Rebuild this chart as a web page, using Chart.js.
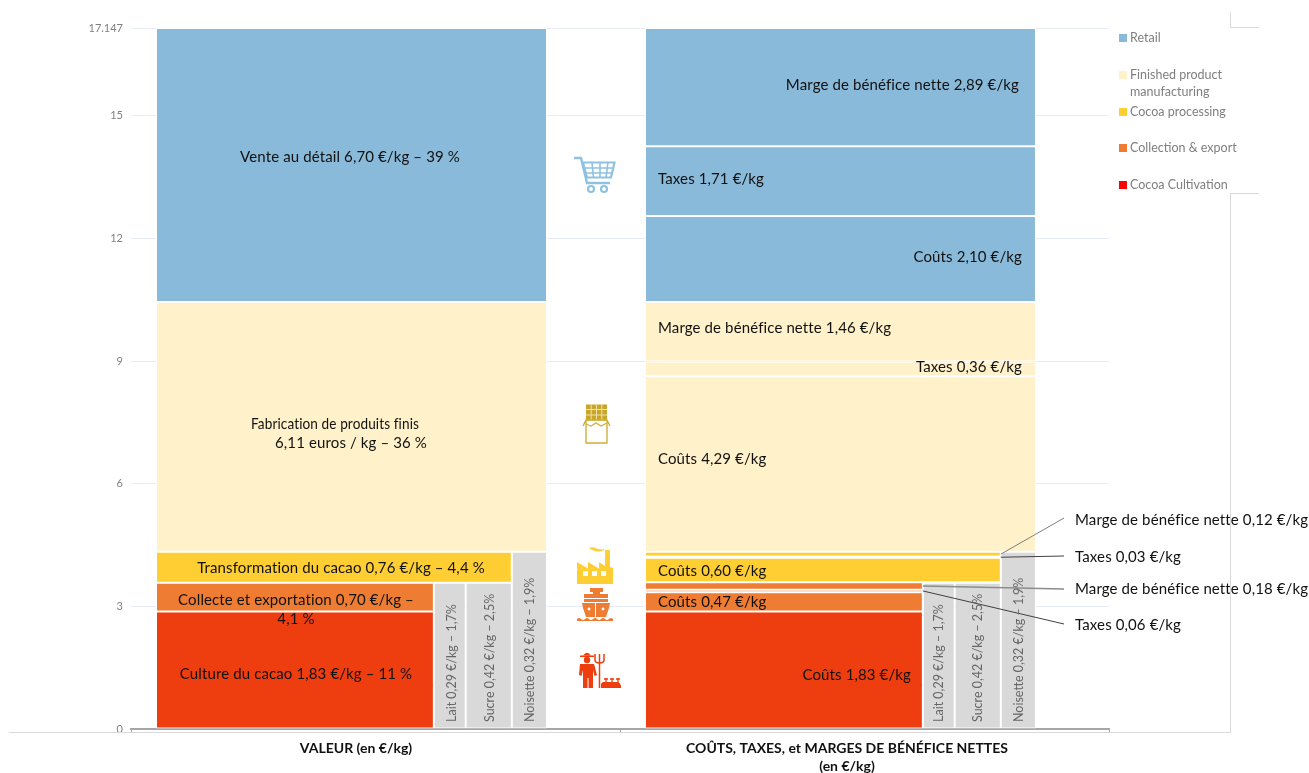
<!DOCTYPE html>
<html lang="fr">
<head>
<meta charset="utf-8">
<title>Chaîne de valeur du chocolat</title>
<script src="https://cdn.jsdelivr.net/npm/chart.js@4"></script>
<style>
  html, body { margin: 0; padding: 0; background: #fff; }
  #wrap { position: relative; width: 1309px; height: 773px; overflow: hidden; }
  #wrap canvas { position: absolute; left: 0; top: 0; }
  .frame { position: absolute; background: #d9d9d9; }
  .icon { position: absolute; }
</style>
</head>
<body>
<div id="wrap">
  <canvas id="chart" width="1309" height="773"></canvas>

  <!-- thin frame lines around the plot and legend -->
  <div class="frame" style="left:9px;top:732px;width:1221px;height:1px"></div>
  <div class="frame" style="left:1230px;top:193px;width:1px;height:540px"></div>
  <div class="frame" style="left:1230px;top:193px;width:29px;height:1px"></div>
  <div class="frame" style="left:1230px;top:12px;width:1px;height:15px"></div>
  <div class="frame" style="left:1230px;top:27px;width:29px;height:1px"></div>

  <!-- stage icons between the two columns -->
  <svg class="icon" style="left:574px;top:156px" width="42" height="38" viewBox="0 0 42 38">
    <path d="M0 2h7l6 25h23" fill="none" stroke="#8fc1e0" stroke-width="2.4"/>
    <path d="M9 6.500H40.500l-3.500 15H13z" fill="none" stroke="#8fc1e0" stroke-width="2.2"/>
    <path d="M11 12h28M12.500 17h25M18 6l1.500 16M26 6v16M34 6l-2 16" stroke="#8fc1e0" stroke-width="1.6"/>
    <circle cx="17" cy="33" r="3" fill="none" stroke="#8fc1e0" stroke-width="2.2"/>
    <circle cx="30" cy="33" r="3" fill="none" stroke="#8fc1e0" stroke-width="2.2"/>
  </svg>
  <svg class="icon" style="left:582px;top:404px" width="30" height="40" viewBox="0 0 30 40">
    <rect x="4" y="0.5" width="21" height="16" fill="#c8a62a"/>
    <path d="M9.2 0v17M14.5 0v17M19.8 0v17M4 5.5h21M4 11h21" stroke="#f0e2a8" stroke-width="1"/>
    <path d="M1 22l3-6h21l3 6M4 16v23h21V16" fill="none" stroke="#cfb03a" stroke-width="1.4"/>
    <path d="M4 20l5 2 5-3 5 3 6-3" fill="none" stroke="#cfb03a" stroke-width="1.2"/>
  </svg>
  <svg class="icon" style="left:577px;top:546px" width="37" height="39" viewBox="0 0 37 39">
    <path d="M0 38V16l11 6.500V16l11 6.500V16l6 4V4h5v17l3 1v16z" fill="#ffce33"/>
    <rect x="6" y="25" width="5" height="5" fill="#fff"/>
    <rect x="15" y="25" width="5" height="5" fill="#fff"/>
    <rect x="24" y="25" width="5" height="5" fill="#fff"/>
    <path d="M12 2c5-3 9 3 16 1-4 4-11 3-16-1z" fill="#ffce33"/>
  </svg>
  <svg class="icon" style="left:577px;top:588px" width="37" height="34" viewBox="0 0 37 34">
    <rect x="13" y="0" width="13" height="4" fill="#ee7d33"/>
    <rect x="16" y="4" width="7" height="2" fill="#ee7d33"/>
    <rect x="7" y="6" width="24" height="4" fill="#ee7d33"/>
    <rect x="7" y="11" width="24" height="3" fill="#ee7d33"/>
    <path d="M5 15h28l-1 5-3 9H9l-3-9z" fill="#ee7d33"/>
    <path d="M18.500 15v14" stroke="#fff" stroke-width="1"/>
    <circle cx="12" cy="21" r="1.400" fill="#fff"/><circle cx="26" cy="21" r="1.400" fill="#fff"/>
    <path d="M0 31q2-2 4 0t4 0 4 0 4 0 4 0 4 0 4 0 4 0 4 0v2H0z" fill="#ee7d33"/>
  </svg>
  <svg class="icon" style="left:577px;top:651px" width="44" height="38" viewBox="0 0 44 38">
    <path d="M3 4.500h14v1.500H3z" fill="#ee3d0f"/>
    <path d="M6 4.500Q10-1 14 4.500z" fill="#ee3d0f"/>
    <circle cx="10" cy="9" r="3.200" fill="#ee3d0f"/>
    <path d="M3 13h14l3 11-2.500 1-1.500-6v18h-4.500V27h-1v10H6V19l-1.500 6L2 24z" fill="#ee3d0f"/>
    <path d="M22.500 37V12M18 3v6q0 3 4.500 3t4.500-3V3M22.500 3v9" fill="none" stroke="#ee3d0f" stroke-width="1.500"/>
    <path d="M24 33q2-3 4-2l12 0q3 0 4 4v2H24z" fill="#ee3d0f"/>
    <path d="M29 32v-5M35 32v-5M41 32v-5M27 28h4M33 28h4M39 28h4" stroke="#ee3d0f" stroke-width="1.300"/>
  </svg>
</div>

<script>
// Y axis
const yTickValues = [0, 3, 6, 9, 12, 15, 17.147];
const yTop = 17.147;

// Value chain stages, bottom to top (€/kg)
const stageNames = ['Culture du cacao', 'Collecte et exportation', 'Transformation du cacao', 'Fabrication de produits finis', 'Vente au détail'];
const stageValues = [1.83, 0.70, 0.76, 6.11, 6.70];

// Costs, taxes and net margins per stage (€/kg)
const culturePart = [1.83];
const collectParts = [0.47, 0.06, 0.18];
const processingParts = [0.60, 0.03, 0.12];
const makingParts = [4.29, 0.36, 1.46];
const retailParts = [2.10, 1.71, 2.89];

// Other ingredients (€/kg), shown as upright columns
const ingredientNames = ['Lait', 'Sucre', 'Noisette'];
const ingredientValues = [0.29, 0.42, 0.32];

const legendLabels = [['Retail'], ['Finished product', 'manufacturing'], ['Cocoa processing'], ['Collection & export'], ['Cocoa Cultivation']];
const bottomLabels = [['VALEUR (en €/kg)'], ['COÛTS, TAXES, et MARGES DE BÉNÉFICE NETTES', '(en €/kg)']];

// Styles and layout
const stageColors = ['#ee3d0f', '#ee7d33', '#ffce33', '#fff1c9', '#8abada'];
const ingredientColor = '#d9d9d9';
const legendColors = ['#8abada', '#fff1c9', '#ffce33', '#ee7d33', '#ff0000'];
const legendRows = [38, 75, 112, 148, 185];
const labelFont = '"Lato", sans-serif';
const columnStarts = [0.2276, 4.68];
const xMax = 8.905;
const seamOverlap = 0.05;

const sum = list => list.reduce((a, b) => a + b, 0);

// The stacks hang from the top of the axis, the rest below is the red base
const stackBase = yTop - sum(stageValues);
const cocoaWidth = stageValues[0] + stageValues[1];
const stageWidths = [
  cocoaWidth,
  cocoaWidth,
  cocoaWidth + ingredientValues[0] + ingredientValues[1],
  cocoaWidth + sum(ingredientValues),
  cocoaWidth + sum(ingredientValues)
];

function block(start, width, lo, hi, color, skipped) {
  return {
    data: [{ x: start + width / 2, y: [lo, hi] }],
    backgroundColor: color,
    borderColor: '#fff',
    borderWidth: 1,
    borderSkipped: skipped || false,
    grouped: false,
    barPercentage: 100,
    categoryPercentage: 1,
    // bar width is a length on the x scale
    maxBarThickness: ctx => {
      const x = ctx.chart.scales.x;
      return x.getPixelForValue(width) - x.getPixelForValue(0);
    }
  };
}

const datasets = [];
const stackTops = [];

// Left column: one block per stage
let runningTop = stackBase;
datasets.push(block(columnStarts[0], stageWidths[0], 0, stackBase + seamOverlap, stageColors[0], 'top'));
stageValues.forEach((v, i) => {
  datasets.push(block(columnStarts[0], stageWidths[i], runningTop, runningTop + v, stageColors[i], i === 0 ? 'bottom' : false));
  runningTop += v;
  stackTops.push(runningTop);
});

// Right column: each stage split into costs, taxes and margin
const partSpots = {};
[culturePart, collectParts, processingParts, makingParts, retailParts].reduce((lo, parts, i) => {
  let y = lo;
  if (i === 0) datasets.push(block(columnStarts[1], stageWidths[0], 0, stackBase + seamOverlap, stageColors[0], 'top'));
  parts.forEach((v, j) => {
    datasets.push(block(columnStarts[1], stageWidths[i], y, y + v, stageColors[i], i === 0 ? 'bottom' : false));
    partSpots[i + '-' + j] = { right: columnStarts[1] + stageWidths[i], mid: y + v / 2 };
    y += v;
  });
  return y;
}, stackBase);

// Ingredient columns in both groups, up to the stage they sit under
const ingredientTops = [stackTops[1], stackTops[1], stackTops[2]];
columnStarts.forEach(start => {
  let x = start + cocoaWidth;
  ingredientValues.forEach((v, i) => {
    datasets.push(block(x, v, 0, ingredientTops[i], ingredientColor));
    x += v;
  });
});

// Text inside and beside the blocks
const blockLabels = [
  ['Vente au détail 6,70 €/kg – 39 %', 350, 157, 'center'],
  ['Fabrication de produits finis', 335, 424, 'center', 168],
  ['6,11 euros / kg – 36 %', 351, 443, 'center'],
  ['Transformation du cacao 0,76 €/kg – 4,4 %', 341, 568, 'center'],
  ['Collecte et exportation 0,70 €/kg –', 296, 600, 'center'],
  ['4,1 %', 296, 619, 'center'],
  ['Culture du cacao 1,83 €/kg – 11 %', 296, 674, 'center'],
  ['Marge de bénéfice nette 2,89 €/kg', 1019, 85, 'right'],
  ['Taxes 1,71 €/kg', 658, 179, 'left'],
  ['Coûts 2,10 €/kg', 1022, 257, 'right'],
  ['Marge de bénéfice nette 1,46 €/kg', 658, 328, 'left'],
  ['Taxes 0,36 €/kg', 1022, 367, 'right'],
  ['Coûts 4,29 €/kg', 658, 459, 'left'],
  ['Coûts 0,60 €/kg', 658, 571, 'left'],
  ['Coûts 0,47 €/kg', 658, 602, 'left'],
  ['Coûts 1,83 €/kg', 911, 675, 'right'],
  ['Marge de bénéfice nette 0,12 €/kg', 1075, 520, 'left'],
  ['Taxes 0,03 €/kg', 1075, 557, 'left'],
  ['Marge de bénéfice nette 0,18 €/kg', 1075, 589, 'left'],
  ['Taxes 0,06 €/kg', 1075, 625, 'left']
];

// Upright ingredient captions
const uprightLabels = [
  ['Lait 0,29 €/kg – 1,7%', 452], ['Sucre 0,42 €/kg – 2,5%', 490], ['Noisette 0,32 €/kg – 1,9%', 530],
  ['Lait 0,29 €/kg – 1,7%', 939], ['Sucre 0,42 €/kg – 2,5%', 978], ['Noisette 0,32 €/kg – 1,9%', 1019]
];

// Leaders from the thin slices to their captions
const leaders = [
  ['2-2', 1064, 518, '#7f7f7f', 1],
  ['2-1', 1064, 556, '#404040', 1],
  ['1-2', 1064, 589, '#8c8c8c', 1.5],
  ['1-1', 1064, 624, '#404040', 1]
];

const textPlugin = {
  id: 'textPlugin',
  afterDatasetsDraw(chart) {
    const { ctx, scales: { x, y } } = chart;
    ctx.save();

    // leaders
    leaders.forEach(([key, ex, ey, color, w]) => {
      const s = partSpots[key];
      ctx.beginPath();
      ctx.moveTo(x.getPixelForValue(s.right), y.getPixelForValue(s.mid));
      ctx.lineTo(ex, ey);
      ctx.strokeStyle = color;
      ctx.lineWidth = w;
      ctx.stroke();
    });

    // block captions
    ctx.fillStyle = '#111';
    ctx.font = '15px ' + labelFont;
    ctx.textBaseline = 'middle';
    ctx.letterSpacing = '0.12px';
    blockLabels.forEach(([text, px, py, align, fit]) => {
      ctx.textAlign = align;
      ctx.fillText(text, px, py, fit);
    });
    ctx.letterSpacing = '0px';

    // ingredient captions, read bottom to top
    ctx.fillStyle = '#666';
    ctx.font = '12.5px ' + labelFont;
    ctx.textAlign = 'left';
    uprightLabels.forEach(([text, px]) => {
      ctx.save();
      ctx.translate(px, 722);
      ctx.rotate(-Math.PI / 2);
      ctx.fillText(text, 0, 0);
      ctx.restore();
    });

    // column titles under the axis
    ctx.fillStyle = '#111';
    ctx.font = 'bold 14px ' + labelFont;
    ctx.textAlign = 'center';
    bottomLabels.forEach((lines, i) => {
      const cx = i === 0 ? 356 : 847;
      lines.forEach((line, j) => ctx.fillText(line, cx, 748 + j * 18));
    });

    // legend
    ctx.font = '12.5px ' + labelFont;
    ctx.textAlign = 'left';
    legendLabels.forEach((lines, i) => {
      const row = legendRows[i];
      ctx.fillStyle = legendColors[i];
      ctx.fillRect(1119, row - 4, 8, 8);
      ctx.fillStyle = '#7f7f7f';
      lines.forEach((line, j) => ctx.fillText(line, 1130, row + j * 17));
    });
    ctx.restore();
  }
};

new Chart(document.getElementById('chart'), {
  type: 'bar',
  data: { datasets },
  plugins: [textPlugin],
  options: {
    responsive: false,
    animation: false,
    layout: { padding: { top: 28, right: 200, left: 0, bottom: 0 } },
    plugins: { legend: { display: false }, tooltip: { enabled: false } },
    scales: {
      x: {
        type: 'linear',
        min: 0,
        max: xMax,
        offset: false,
        afterBuildTicks: axis => { axis.ticks = [0, xMax / 2, xMax].map(value => ({ value })); },
        afterFit: axis => { axis.height = 44; },
        border: { color: '#a6a6a6', width: 2 },
        grid: { offset: false, drawOnChartArea: false, color: '#a6a6a6', tickLength: 4 },
        ticks: { callback: () => '', autoSkip: false, maxRotation: 0 }
      },
      y: {
        min: 0,
        max: yTop,
        afterBuildTicks: axis => { axis.ticks = yTickValues.map(value => ({ value })); },
        afterFit: axis => { axis.width = 131; },
        border: { display: false },
        grid: { color: '#e6ebf5', drawTicks: false },
        ticks: {
          padding: 8,
          color: '#808080',
          font: { family: 'Lato', size: 11 },
          callback: v => String(v)
        }
      }
    }
  }
});
</script>
</body>
</html>
